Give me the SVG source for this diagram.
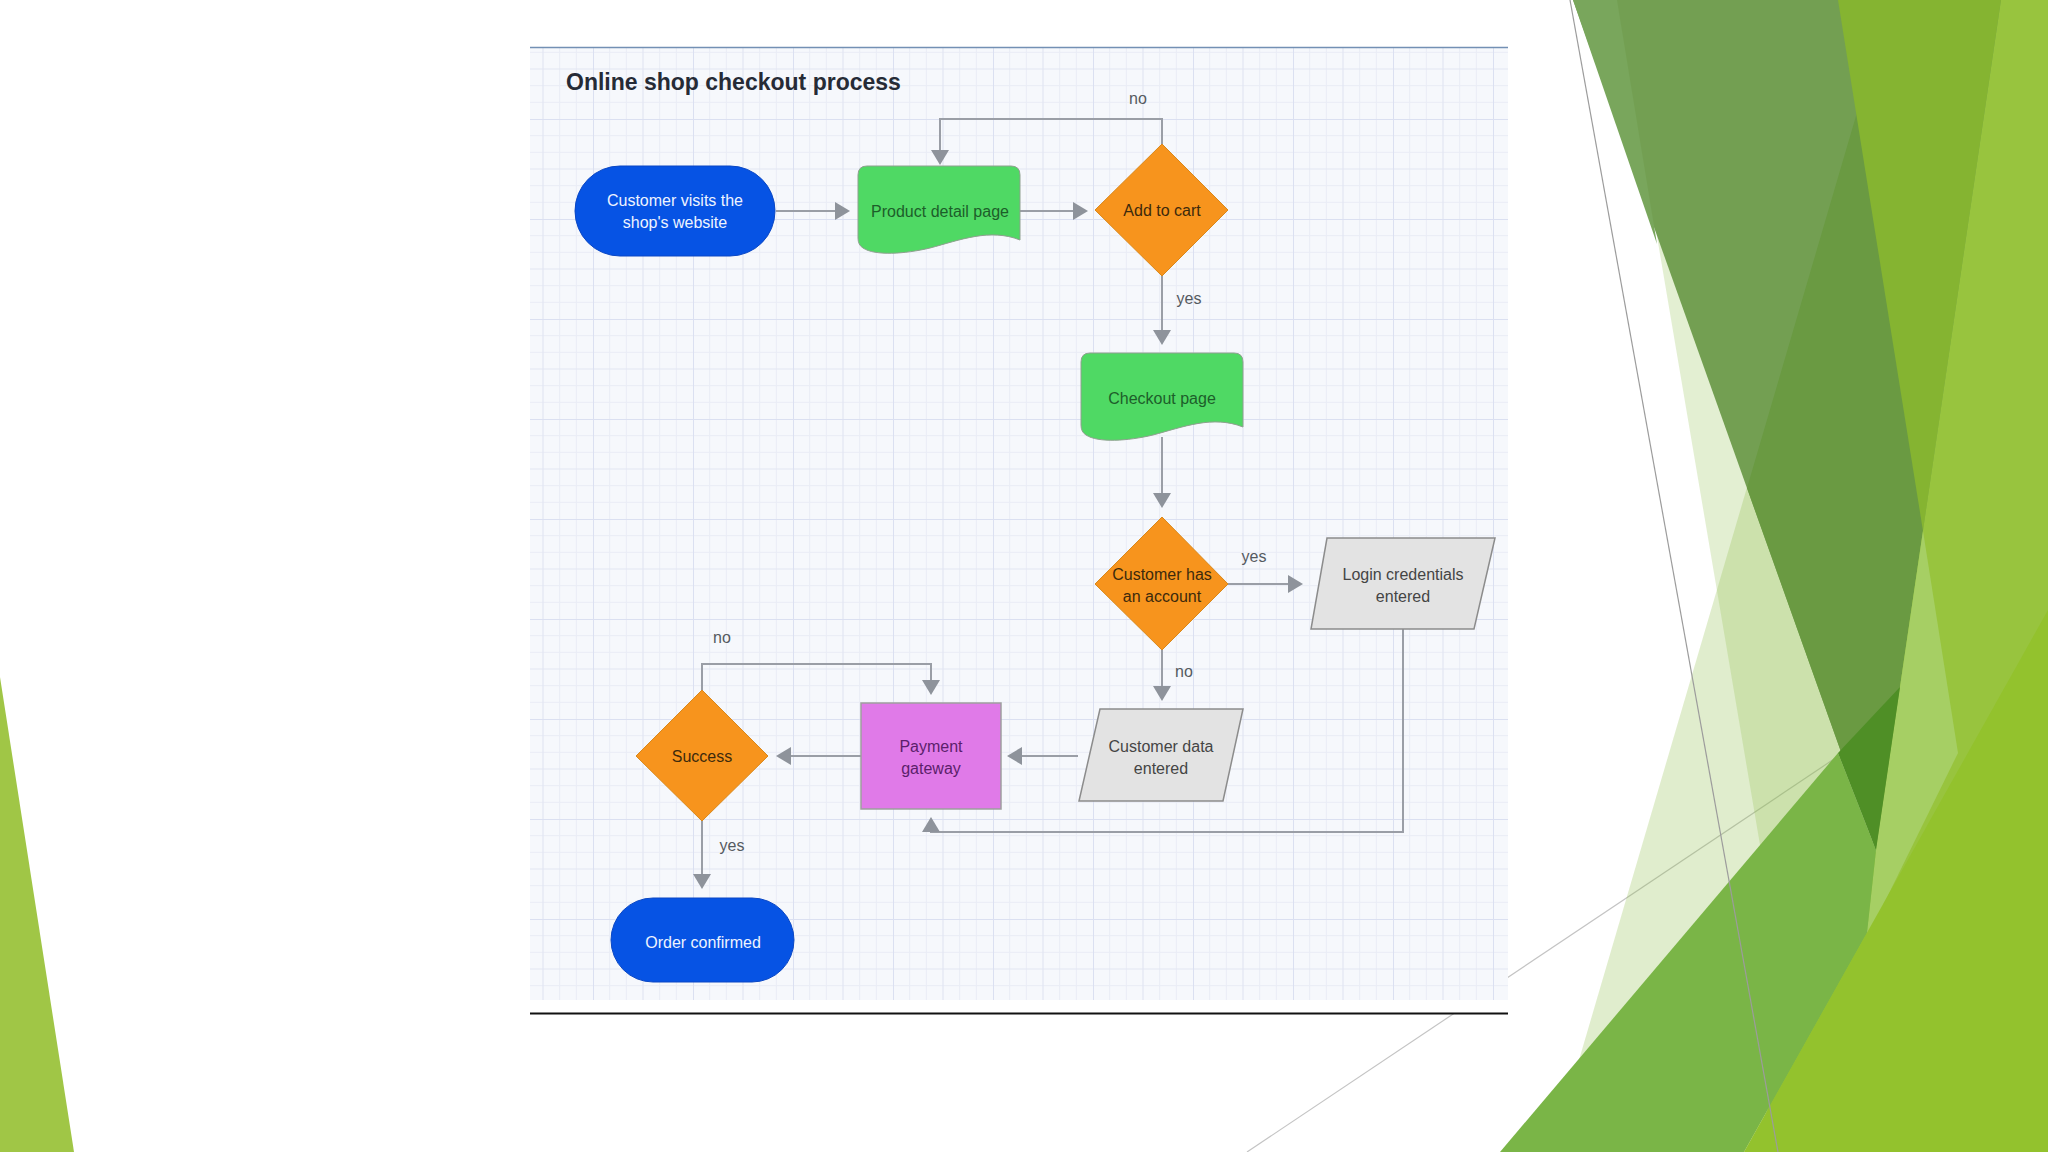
<svg xmlns="http://www.w3.org/2000/svg" width="2048" height="1152" viewBox="0 0 2048 1152">
  <defs>
    <style>
      .lbl { font-family: "Liberation Sans", Arial, sans-serif; font-size: 16px; fill: #555a60; text-anchor: middle; }
      .nt { font-family: "Liberation Sans", Arial, sans-serif; font-size: 16px; text-anchor: middle; }
      .term { fill: #0653e4; stroke: #0a47c4; stroke-width: 1; }
      .doc { fill: #4fd964; stroke: #8fa08f; stroke-width: 1; }
      .dia { fill: #f7941d; stroke: #d9881a; stroke-width: 1; }
      .para { fill: #e3e3e3; stroke: #8c8c8c; stroke-width: 1.5; }
      .conn { fill: none; stroke: #9a9ea6; stroke-width: 2; }
      .white { fill: #eef3ff; }
      .green { fill: #1d5e2a; }
      .brown { fill: #3d2a0c; }
      .gray { fill: #454545; }
      .purple { fill: #5b1f6b; }
    </style>
    <pattern id="grid" x="93" y="19" width="100" height="100" patternUnits="userSpaceOnUse">
      <rect width="100" height="100" fill="#f6f8fc"/>
      <path d="M16.67,0V100M33.33,0V100M66.67,0V100M83.33,0V100M0,16.67H100M0,33.33H100M0,66.67H100M0,83.33H100" stroke="#eaedf6" stroke-width="1" fill="none"/>
      <path d="M50,0V100M0,50H100" stroke="#e2e6f3" stroke-width="1.2" fill="none"/>
      <path d="M0,0V100M0,0H100" stroke="#dbe0f1" stroke-width="2" fill="none"/>
    </pattern>
    <marker id="ah" viewBox="0 0 15 18" refX="12" refY="9" markerWidth="15" markerHeight="18" markerUnits="userSpaceOnUse" orient="auto">
      <path d="M0,0 L15,9 L0,18 Z" fill="#8e939b"/>
    </marker>
    <path id="docshape" d="M0,9 Q0,0 9,0 H153 Q162,0 162,9 V74 C132,62 102,74 72,82 C47,88 17,90 5,82 Q0,79 0,72 Z"/>
  </defs>

  <!-- slide background -->
  <rect width="2048" height="1152" fill="#ffffff"/>
  <g id="decor">
    <polygon points="0,677 74,1152 0,1152" fill="#a0c646"/>
    <line x1="1247" y1="1152" x2="1840" y2="755" stroke="#c4c4c4" stroke-width="1.2"/>
    <polygon points="1890,0 2048,0 2048,1152 1552,1152" fill="#8fc04a" opacity="0.28"/>
    <polygon points="1617,0 1900,0 1900,1152 1812,1152" fill="#8fc04a" opacity="0.25"/>
    <polygon points="1573,0 2010,0 1876,850" fill="#739f52"/>
    <polygon points="1573,0 1617,0 1657,244" fill="#79a65c"/>
    <polygon points="1890,0 2010,0 1876,850 1747,488" fill="#6a9a42"/>
    <polygon points="1838,0 2001,0 1923,531" fill="#85b431"/>
    <polygon points="2001,0 2048,0 2048,1152 1750,1152 1876,850" fill="#98c43e"/>
    <polygon points="1923,531 1958,753 1866,940 1876,850" fill="#a6cf64"/>
    <polygon points="1500,1152 1838,753 1876,850 1867,933 1744,1152" fill="#7ab547"/>
    <polygon points="1838,753 1900,687 1876,850" fill="#4f8f26"/>
    <polygon points="2048,610 2048,1152 1744,1152" fill="#93c22d"/>
    <line x1="1570" y1="0" x2="1778" y2="1152" stroke="#9c9c9c" stroke-width="1.2"/>
  </g>

  <!-- diagram panel -->
  <g id="panel">
    <rect x="530" y="47" width="978" height="967" fill="#ffffff"/>
    <rect x="530" y="47" width="978" height="953" fill="url(#grid)"/>
    <line x1="530" y1="47.5" x2="1508" y2="47.5" stroke="#7390b4" stroke-width="1.5"/>
    <line x1="530" y1="1013.5" x2="1508" y2="1013.5" stroke="#111111" stroke-width="2"/>
    <text x="566" y="90" font-family="Liberation Sans, Arial, sans-serif" font-size="23" font-weight="bold" fill="#262b36">Online shop checkout process</text>
  </g>

  <g id="connectors">
    <path class="conn" d="M776,211 H847" marker-end="url(#ah)"/>
    <path class="conn" d="M1020,211 H1085" marker-end="url(#ah)"/>
    <path class="conn" d="M1162,144 V119 H940 V162" marker-end="url(#ah)"/>
    <path class="conn" d="M1162,276 V342" marker-end="url(#ah)"/>
    <path class="conn" d="M1162,437 V505" marker-end="url(#ah)"/>
    <path class="conn" d="M1228,584 H1300" marker-end="url(#ah)"/>
    <path class="conn" d="M1162,650 V698" marker-end="url(#ah)"/>
    <path class="conn" d="M1078,756 H1010" marker-end="url(#ah)"/>
    <path class="conn" d="M861,756 H779" marker-end="url(#ah)"/>
    <path class="conn" d="M702,690 V664 H931 V692" marker-end="url(#ah)"/>
    <path class="conn" d="M1403,629 V832 H931 V820" marker-end="url(#ah)"/>
    <path class="conn" d="M702,821 V886" marker-end="url(#ah)"/>
  </g>

  <g id="labels">
    <text class="lbl" x="1138" y="104">no</text>
    <text class="lbl" x="1189" y="304">yes</text>
    <text class="lbl" x="1254" y="562">yes</text>
    <text class="lbl" x="1184" y="677">no</text>
    <text class="lbl" x="722" y="643">no</text>
    <text class="lbl" x="732" y="851">yes</text>
  </g>

  <g id="node-start">
    <rect class="term" x="575" y="166" width="200" height="90" rx="45"/>
    <text class="nt white" x="675" y="206">Customer visits the</text>
    <text class="nt white" x="675" y="228">shop's website</text>
  </g>

  <g id="node-product">
    <use href="#docshape" class="doc" x="858" y="166"/>
    <text class="nt green" x="940" y="217">Product detail page</text>
  </g>

  <g id="node-addtocart">
    <polygon class="dia" points="1162,144 1228,210 1162,276 1095,210"/>
    <text class="nt brown" x="1162" y="216">Add to cart</text>
  </g>

  <g id="node-checkout">
    <use href="#docshape" class="doc" x="1081" y="353"/>
    <text class="nt green" x="1162" y="404">Checkout page</text>
  </g>

  <g id="node-hasaccount">
    <polygon class="dia" points="1162,517 1228,584 1162,650 1095,584"/>
    <text class="nt brown" x="1162" y="580">Customer has</text>
    <text class="nt brown" x="1162" y="602">an account</text>
  </g>

  <g id="node-login">
    <polygon class="para" points="1327,538 1495,538 1474,629 1311,629"/>
    <text class="nt gray" x="1403" y="580">Login credentials</text>
    <text class="nt gray" x="1403" y="602">entered</text>
  </g>

  <g id="node-customerdata">
    <polygon class="para" points="1100,709 1243,709 1223,801 1079,801"/>
    <text class="nt gray" x="1161" y="752">Customer data</text>
    <text class="nt gray" x="1161" y="774">entered</text>
  </g>

  <g id="node-payment">
    <rect x="861" y="703" width="140" height="106" fill="#e07ae8" stroke="#9e9e9e" stroke-width="1.5"/>
    <text class="nt purple" x="931" y="752">Payment</text>
    <text class="nt purple" x="931" y="774">gateway</text>
  </g>

  <g id="node-success">
    <polygon class="dia" points="702,690 768,756 702,821 636,756"/>
    <text class="nt brown" x="702" y="762">Success</text>
  </g>

  <g id="node-order">
    <rect class="term" x="611" y="898" width="183" height="84" rx="42"/>
    <text class="nt white" x="703" y="948">Order confirmed</text>
  </g>
</svg>
